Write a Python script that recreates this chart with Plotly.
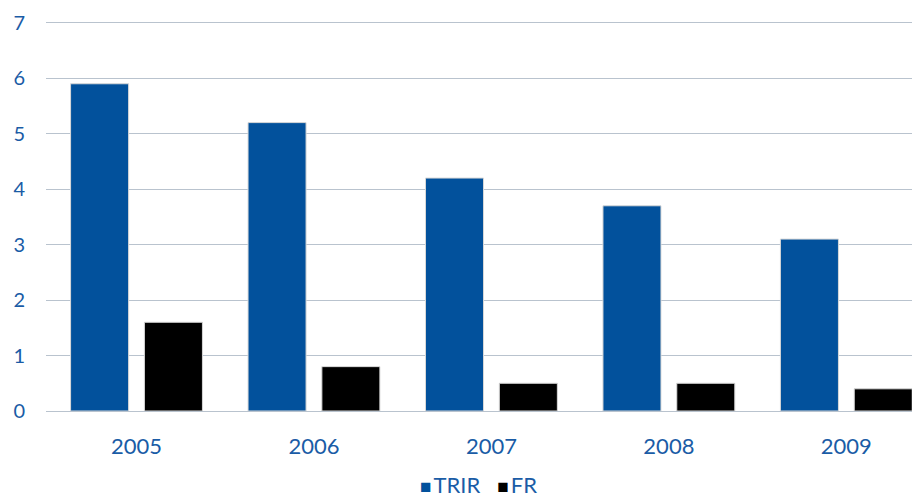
import plotly.graph_objects as go

years = ["2005", "2006", "2007", "2008", "2009"]
trir = [5.9, 5.2, 4.2, 3.7, 3.1]
fr = [1.6, 0.8, 0.5, 0.5, 0.4]
y_ticks = [0, 1, 2, 3, 4, 5, 6, 7]
series_names = ["TRIR", "FR"]

blue = "#02519C"
black = "#000000"
text_blue = "#1A5CA6"

fig = go.Figure()
fig.add_trace(go.Bar(name=series_names[0], x=years, y=trir,
                     marker=dict(color=blue, line=dict(color="#D8D8D8", width=1))))
fig.add_trace(go.Bar(name=series_names[1], x=years, y=fr,
                     marker=dict(color=black, line=dict(color="#D8D8D8", width=1))))

legend_html = (
    f'<span style="color:{blue};font-size:19px">■</span><span style="font-size:8px">&nbsp;</span>{series_names[0]}'
    f'&nbsp;&nbsp;&nbsp;<span style="color:{black};font-size:19px">■</span><span style="font-size:8px">&nbsp;</span>{series_names[1]}'
)

fig.update_layout(
    width=912, height=498,
    margin=dict(l=46, r=0, t=20, b=87),
    paper_bgcolor="white", plot_bgcolor="white",
    barmode="group", bargap=0.168, bargroupgap=0.214,
    font=dict(family="Lato, sans-serif", color=text_blue, size=18),
    showlegend=False,
    xaxis=dict(type="category", range=[-0.51, 4.37], showgrid=False, showline=False,
               ticks="", ticklabelstandoff=20, tickfont=dict(size=22, color=text_blue)),
    yaxis=dict(range=[0, 7.05], tickvals=y_ticks, showgrid=True, gridcolor="#B9C3CE", gridwidth=1,
               zeroline=True, zerolinecolor="#B9C3CE", zerolinewidth=1, showline=False,
               ticks="", ticklabelstandoff=20, tickfont=dict(size=20, color=text_blue)),
    annotations=[dict(text=legend_html, xref="paper", yref="paper",
                      x=(478 - 46) / 866, y=(411 - 485) / 391, xanchor="center", yanchor="middle",
                      showarrow=False, font=dict(size=22, color=text_blue, family="Lato, sans-serif"))],
)

fig.write_html("out.html")
